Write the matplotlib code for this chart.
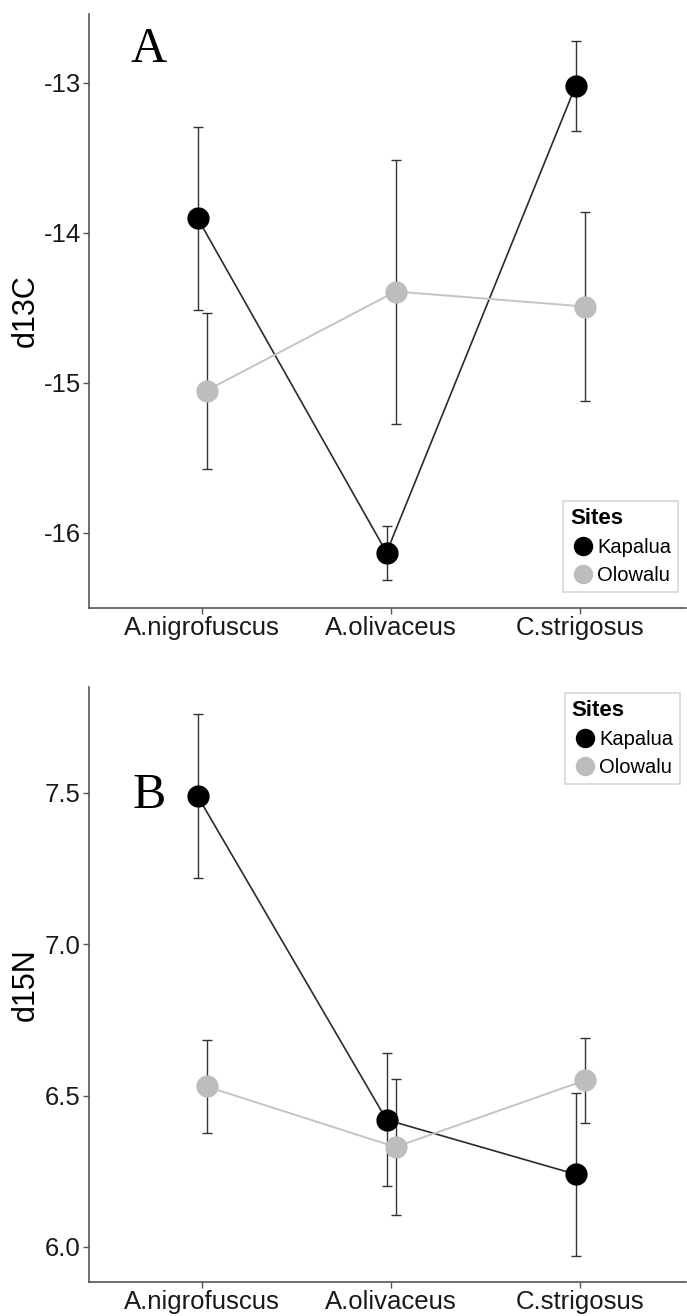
import numpy as np
import matplotlib.pyplot as plt
from matplotlib.lines import Line2D

species = ["A.nigrofuscus", "A.olivaceus", "C.strigosus"]
sites = ["Kapalua", "Olowalu"]

# d13C: means and error half-widths per site
d13c_kap = [-13.90, -16.13, -13.02]
d13c_kap_err = [0.61, 0.18, 0.30]
d13c_olo = [-15.05, -14.39, -14.49]
d13c_olo_err = [0.52, 0.88, 0.63]

# d15N
d15n_kap = [7.49, 6.42, 6.24]
d15n_kap_err = [0.27, 0.22, 0.27]
d15n_olo = [6.53, 6.33, 6.55]
d15n_olo_err = [0.155, 0.225, 0.14]

W, H = 687, 1316
fig = plt.figure(figsize=(W / 100, H / 100), dpi=100)
plt.rcParams["font.family"] = ["Liberation Sans", "DejaVu Sans"]

col = {"Kapalua": "#000000", "Olowalu": "#bdbdbd"}
line_col = {"Kapalua": "#2a2a2a", "Olowalu": "#c4c4c4"}
dodge = {"Kapalua": -0.024, "Olowalu": 0.024}


def panel(rect, kap, kap_err, olo, olo_err, ylim, yticks, ylab, letter,
          letter_xy, leg_loc, leg_anchor):
    ax = fig.add_axes(rect)
    x = np.arange(len(species))
    for name, m, e in (("Kapalua", kap, kap_err), ("Olowalu", olo, olo_err)):
        xs = x + dodge[name]
        ax.errorbar(xs, m, yerr=e, fmt="none", ecolor="#333333",
                    elinewidth=1.0, capsize=3.5, capthick=1.0, zorder=2)
    for name, m in (("Kapalua", kap), ("Olowalu", olo)):
        xs = x + dodge[name]
        ax.plot(xs, m, "-", color=line_col[name],
                lw=1.2 if name == "Kapalua" else 1.4, zorder=3)
    for name, m in (("Kapalua", kap), ("Olowalu", olo)):
        xs = x + dodge[name]
        ax.plot(xs, m, "o", color=col[name], ms=15, mec=col[name],
                zorder=4 if name == "Kapalua" else 5)

    ax.set_xlim(-0.598, 2.56)
    ax.set_ylim(*ylim)
    ax.set_xticks(x)
    ax.set_xticklabels(species)
    ax.set_yticks(yticks)
    if isinstance(yticks[0], float):
        ax.set_yticklabels([f"{v:.1f}" for v in yticks])
    else:
        ax.set_yticklabels([str(v) for v in yticks])
    ax.tick_params(labelsize=18.5, length=4, width=1, color="#555555",
                   labelcolor="#1a1a1a", pad=2)
    for s in ("top", "right"):
        ax.spines[s].set_visible(False)
    for s in ("left", "bottom"):
        ax.spines[s].set_color("#555555")
        ax.spines[s].set_linewidth(1.2)
    ax.set_ylabel(ylab, fontsize=22)
    ax.yaxis.set_label_coords(-0.08, 0.5)

    fig.text(letter_xy[0] / W, 1 - letter_xy[1] / H, letter,
             family="Liberation Serif", fontsize=36, ha="center", va="center")

    handles = [Line2D([], [], ls="none", marker="o", ms=13, color=col[s],
                      mec=col[s]) for s in sites]
    leg = ax.legend(handles, sites, title="Sites", loc=leg_loc,
                    bbox_to_anchor=leg_anchor, fontsize=14.5,
                    title_fontproperties={"weight": "bold", "size": 16},
                    frameon=True, fancybox=False, edgecolor="#cccccc",
                    handletextpad=0.05, handlelength=1.3, borderpad=0.35,
                    labelspacing=0.45, borderaxespad=0)
    leg._legend_box.align = "left"
    leg.get_frame().set_linewidth(1.2)
    return ax


panel([89 / W, 1 - 608 / H, 597 / W, 594 / H],
      d13c_kap, d13c_kap_err, d13c_olo, d13c_olo_err,
      (-16.5, -12.54), [-13, -14, -15, -16], "d13C", "A", (149, 50),
      "lower right", (0.987, 0.027))

panel([89 / W, 1 - 1282 / H, 597 / W, 595 / H],
      d15n_kap, d15n_kap_err, d15n_olo, d15n_olo_err,
      (5.884, 7.85), [6.0, 6.5, 7.0, 7.5], "d15N", "B", (149, 796),
      "upper right", (0.99, 0.99))

fig.savefig("out.png", dpi=100)
